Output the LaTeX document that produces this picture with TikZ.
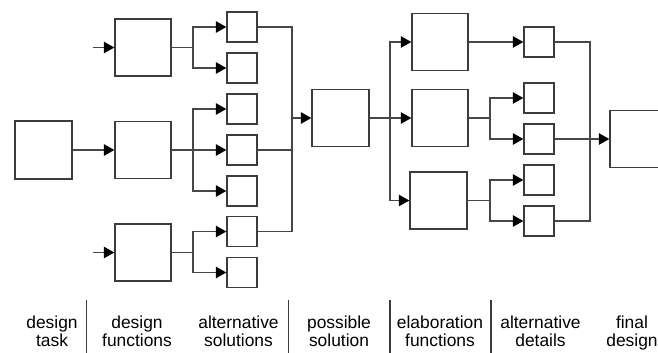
\documentclass[tikz,border=0pt]{standalone}
\usepackage{fontspec}
\setmainfont{Liberation Sans}
\usetikzlibrary{arrows.meta}
\definecolor{boxgray}{HTML}{3C3C3C}
\definecolor{linegray}{HTML}{474747}
\begin{document}
\begin{tikzpicture}[x=1pt,y=-1pt,
  bigbox/.style={draw=boxgray, line width=1.4pt, inner sep=0pt,
    minimum width=56pt, minimum height=57pt},
  smallbox/.style={draw=boxgray, line width=1.4pt, inner sep=0pt,
    minimum width=30pt, minimum height=30pt},
  conn/.style={draw=linegray, line width=1.3pt},
  arr/.style={conn, -{Triangle[length=10.5pt,width=11.5pt,color=black]}},
  lbl/.style={anchor=north, align=center, inner sep=0pt,
    font=\fontsize{17.4}{18.5}\selectfont},
  sep/.style={draw=boxgray, line width=1.3pt}]
\useasboundingbox (0,0) rectangle (658,353);

% design task and design functions
\node[bigbox, minimum width=57pt, minimum height=58pt] (T) at (43.5,150) {};
\node[bigbox] (F1) at (143,47.5) {};
\node[bigbox] (F2) at (143,150) {};
\node[bigbox] (F3) at (143,252.5) {};

% alternative solutions
\node[smallbox] (S1) at (242,27) {};
\node[smallbox] (S2) at (242,68) {};
\node[smallbox] (S3) at (242,109) {};
\node[smallbox] (S4) at (242,150) {};
\node[smallbox] (S5) at (242,191) {};
\node[smallbox] (S6) at (242,231.5) {};
\node[smallbox] (S7) at (242,272.5) {};

% possible solution and elaboration functions
\node[bigbox, minimum width=57pt] (P) at (340.5,118) {};
\node[bigbox] (E1) at (440,42) {};
\node[bigbox] (E2) at (440,118) {};
\node[bigbox, minimum width=57pt] (E3) at (438.5,200.5) {};

% alternative details and final design
\node[smallbox] (D1) at (539,42) {};
\node[smallbox] (D2) at (539,98) {};
\node[smallbox] (D3) at (539,139) {};
\node[smallbox] (D4) at (539,180) {};
\node[smallbox] (D5) at (539,221) {};
\node[bigbox, minimum width=58pt] (Fin) at (639,139) {};

% free ends and branch points
\coordinate (in1) at (93,47.5);
\coordinate (in3) at (93,252.5);
\coordinate (b1) at (193,47.5);
\coordinate (b2) at (193,150);
\coordinate (b3) at (193,252.5);
\coordinate (m1) at (292,118);
\coordinate (b4) at (390,118);
\coordinate (b5) at (490,118);
\coordinate (b6) at (490,200.5);
\coordinate (m2) at (590,139);

% task into functions
\draw[arr] (in1) -- (F1.west);
\draw[arr] (T.east) -- (F2.west);
\draw[arr] (in3) -- (F3.west);

% functions into alternative solutions
\draw[conn] (F1.east) -- (b1);
\draw[arr] (b1) |- (S1.west);
\draw[arr] (b1) |- (S2.west);
\draw[conn] (F2.east) -- (b2);
\draw[arr] (b2) |- (S3.west);
\draw[arr] (b2) -- (S4.west);
\draw[arr] (b2) |- (S5.west);
\draw[conn] (F3.east) -- (b3);
\draw[arr] (b3) |- (S6.west);
\draw[arr] (b3) |- (S7.west);

% chosen solutions merged into the possible solution
\draw[conn] (S1.east) -| (m1);
\draw[conn] (S4.east) -| (m1);
\draw[conn] (S6.east) -| (m1);
\draw[arr] (m1) -- (P.west);

% possible solution into elaboration functions
\draw[conn] (P.east) -- (b4);
\draw[arr] (b4) |- (E1.west);
\draw[arr] (b4) -- (E2.west);
\draw[arr] (b4) |- (E3.west);

% elaboration functions into alternative details
\draw[arr] (E1.east) -- (D1.west);
\draw[conn] (E2.east) -- (b5);
\draw[arr] (b5) |- (D2.west);
\draw[arr] (b5) |- (D3.west);
\draw[conn] (E3.east) -- (b6);
\draw[arr] (b6) |- (D4.west);
\draw[arr] (b6) |- (D5.west);

% chosen details merged into the final design
\draw[conn] (D1.east) -| (m2);
\draw[conn] (D3.east) -- (m2);
\draw[conn] (D5.east) -| (m2);
\draw[arr] (m2) -- (Fin.west);

% phase labels
\node[lbl] (L1) at (52,315.5) {design\\task};
\node[lbl] (L2) at (137,315.5) {design\\functions};
\node[lbl] (L3) at (238.5,315.5) {alternative\\solutions};
\node[lbl] (L4) at (339,315.5) {possible\\solution};
\node[lbl] (L5) at (440,315.5) {elaboration\\functions};
\node[lbl] (L6) at (540.5,315.5) {alternative\\details};
\node[lbl] (L7) at (632,315.5) {final\\design};

% phase separators
\draw[sep] (86.5,300) -- (86.5,353);
\draw[sep] (288.5,300) -- (288.5,353);
\draw[sep] (390,300) -- (390,353);
\draw[sep] (491,300) -- (491,353);
\end{tikzpicture}
\end{document}
